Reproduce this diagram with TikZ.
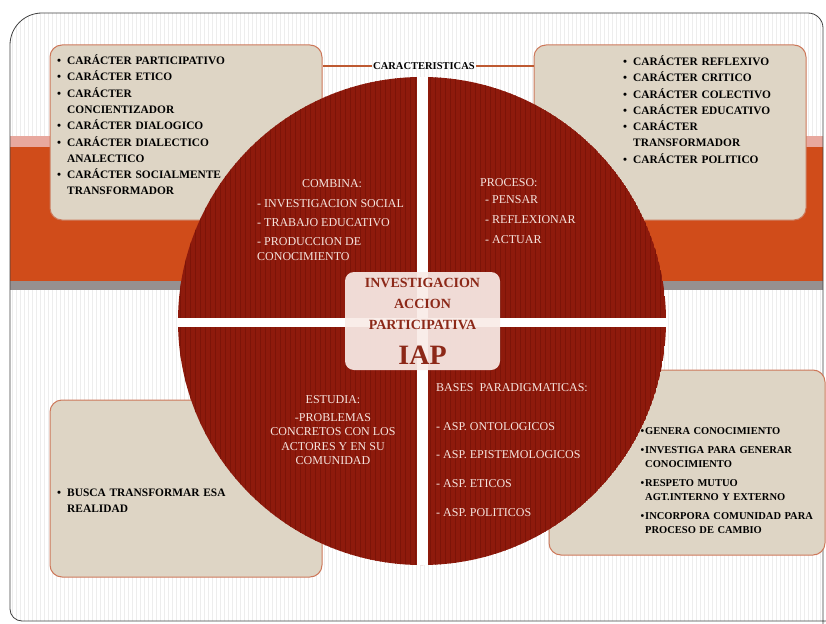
\documentclass[tikz,border=0pt]{standalone}
\usepackage{fontspec}
\setmainfont{Liberation Serif}
\usetikzlibrary{positioning}
\definecolor{iapred}{RGB}{142,26,12}
\definecolor{iapstripe}{RGB}{124,20,8}
\definecolor{iaporange}{RGB}{208,76,26}
\definecolor{iappink}{RGB}{232,168,158}
\definecolor{iapgray}{RGB}{150,144,144}
\definecolor{iapbeige}{RGB}{222,213,197}
\definecolor{iapedge}{RGB}{205,120,90}
\definecolor{iaplight}{RGB}{246,228,222}
\definecolor{iapbrown}{RGB}{140,40,24}
\definecolor{iapline}{RGB}{190,90,50}
\tikzstyle{linker} = [line width=2pt,color=iapline]

\newenvironment{bulletlist}[2]{\begin{list}{\textbullet}{\setlength\leftmargin{#1}\setlength\labelwidth{5pt}\setlength\labelsep{#2}\setlength\itemsep{0pt}\setlength\parsep{0pt}\setlength\topsep{0pt}\setlength\partopsep{0pt}}}{\end{list}}

\begin{document}
\begin{tikzpicture}[x=1pt, y=-1pt,
    burlap/.style={rectangle, rounded corners=12pt, draw=iapedge, line width=1pt, fill=iapbeige, minimum width=272pt, minimum height=175pt},
    boxtext/.style={anchor=north west, inner sep=0pt, text width=#1, align=left, font=\bfseries\fontsize{11.4}{16.3}\selectfont},
    slicetext/.style={inner sep=0pt, text=iaplight, font=\fontsize{12}{15}\selectfont}]

\useasboundingbox (0,0) rectangle (826,623);
\clip (0,0) rectangle (826,623);

% Frame and background
\begin{scope}
\clip (823,640) [rounded corners=15pt] -- (823,13) [rounded corners=32pt] -- (10,13) [rounded corners=12pt] -- (10,621) -- (840,621) -- cycle;
\foreach \x in {12,16,...,824} \draw[gray!14, line width=1pt] (\x,13) -- (\x,623);
\fill[iappink] (10,136) rectangle (826,147);
\fill[iaporange] (10,147) rectangle (826,281);
\fill[iapgray] (10,281) rectangle (826,290);
\end{scope}
\draw[black!75, line width=0.8pt] (823,640) [rounded corners=15pt] -- (823,13) [rounded corners=32pt] -- (10,13) [rounded corners=12pt] -- (10,621) -- (840,621);

% Side boxes
\node[burlap] (tlbox) at (186,132.5) {};
\node[burlap] (trbox) at (670,132.5) {};
\node[burlap, minimum height=177pt] (blbox) at (186,488.5) {};
\node[burlap, minimum width=276pt, minimum height=185pt] (brbox) at (687,462.5) {};

% Circle
\begin{scope}
\clip (422,321) circle (244);
\fill[iapred] (422,321) circle (244);
\foreach \x in {180,185,...,664} \draw[iapstripe, line width=1pt] (\x,77) -- (\x,565);
\fill[white] (417,70) rectangle (428,570);
\fill[white] (170,318) rectangle (680,327);
\end{scope}

% Box texts
\node[boxtext=255pt] (tltext) at (56,48) {\begin{bulletlist}{11pt}{6pt}
\item CARÁCTER PARTICIPATIVO
\item CARÁCTER ETICO
\item CARÁCTER\\CONCIENTIZADOR
\item CARÁCTER DIALOGICO
\item CARÁCTER DIALECTICO\\ANALECTICO
\item CARÁCTER SOCIALMENTE\\TRANSFORMADOR
\end{bulletlist}};

\node[boxtext=180pt] (trtext) at (622,49) {\begin{bulletlist}{11pt}{6pt}
\item CARÁCTER REFLEXIVO
\item CARÁCTER CRITICO
\item CARÁCTER COLECTIVO
\item CARÁCTER EDUCATIVO
\item CARÁCTER\\TRANSFORMADOR
\item CARÁCTER POLITICO
\end{bulletlist}};

\node[boxtext=255pt] (bltext) at (56,480) {\begin{bulletlist}{11pt}{6pt}
\item BUSCA TRANSFORMAR ESA\\REALIDAD
\end{bulletlist}};

\node[boxtext=190pt, font=\bfseries\fontsize{10.5}{14}\selectfont] (brtext) at (639,420) {\begin{bulletlist}{6pt}{1pt}
\item GENERA CONOCIMIENTO\vspace{5pt}
\item INVESTIGA PARA GENERAR\\CONOCIMIENTO\vspace{5pt}
\item RESPETO MUTUO\\AGT.INTERNO Y EXTERNO\vspace{5pt}
\item INCORPORA COMUNIDAD PARA\\PROCESO DE CAMBIO
\end{bulletlist}};

% Label and connectors
\node[inner sep=1pt, font=\bfseries\fontsize{10.5}{12}\selectfont] (carac) at (424,66) {CARACTERISTICAS};
\draw[linker] (carac.west) -- (carac.west -| tlbox.east);
\draw[linker] (carac.east) -- (carac.east -| trbox.west);

% Slice texts
\node[slicetext] (combtit) at (332,184) {COMBINA:};
\node[slicetext, anchor=north west, align=left] (combitems) at (257,199) {- INVESTIGACION SOCIAL\\[4pt]- TRABAJO EDUCATIVO\\[4pt]- PRODUCCION DE\\CONOCIMIENTO};

\node[slicetext, anchor=west] (proctit) at (480,183) {PROCESO:};
\node[slicetext, anchor=north west, align=left, font=\fontsize{12}{20}\selectfont] (procitems) at (485,195) {- PENSAR\\- REFLEXIONAR\\- ACTUAR};

\node[slicetext] (esttit) at (333,400) {ESTUDIA:};
\node[slicetext, anchor=north, align=center, font=\fontsize{12}{14.5}\selectfont] (estitems) at (333,413) {-PROBLEMAS\\CONCRETOS CON LOS\\ACTORES Y EN SU\\COMUNIDAD};

\node[slicetext, anchor=west] (basestit) at (436,388) {BASES\ \ PARADIGMATICAS:};
\node[slicetext, anchor=north west, align=left, font=\fontsize{12}{28.7}\selectfont] (baseitems) at (436,422) {- ASP. ONTOLOGICOS\\- ASP. EPISTEMOLOGICOS\\- ASP. ETICOS\\- ASP. POLITICOS};

% Center box
\node[rectangle, rounded corners=9pt, fill=iaplight!70!white, fill opacity=0.92, text opacity=1, minimum width=155pt, minimum height=98pt, align=center, text=iapbrown, font=\bfseries\fontsize{14}{21}\selectfont] (iap) at (422.5,321) {INVESTIGACION\\ACCION\\PARTICIPATIVA\\[14pt]{\fontsize{28}{30}\selectfont IAP}};
\end{tikzpicture}
\end{document}
